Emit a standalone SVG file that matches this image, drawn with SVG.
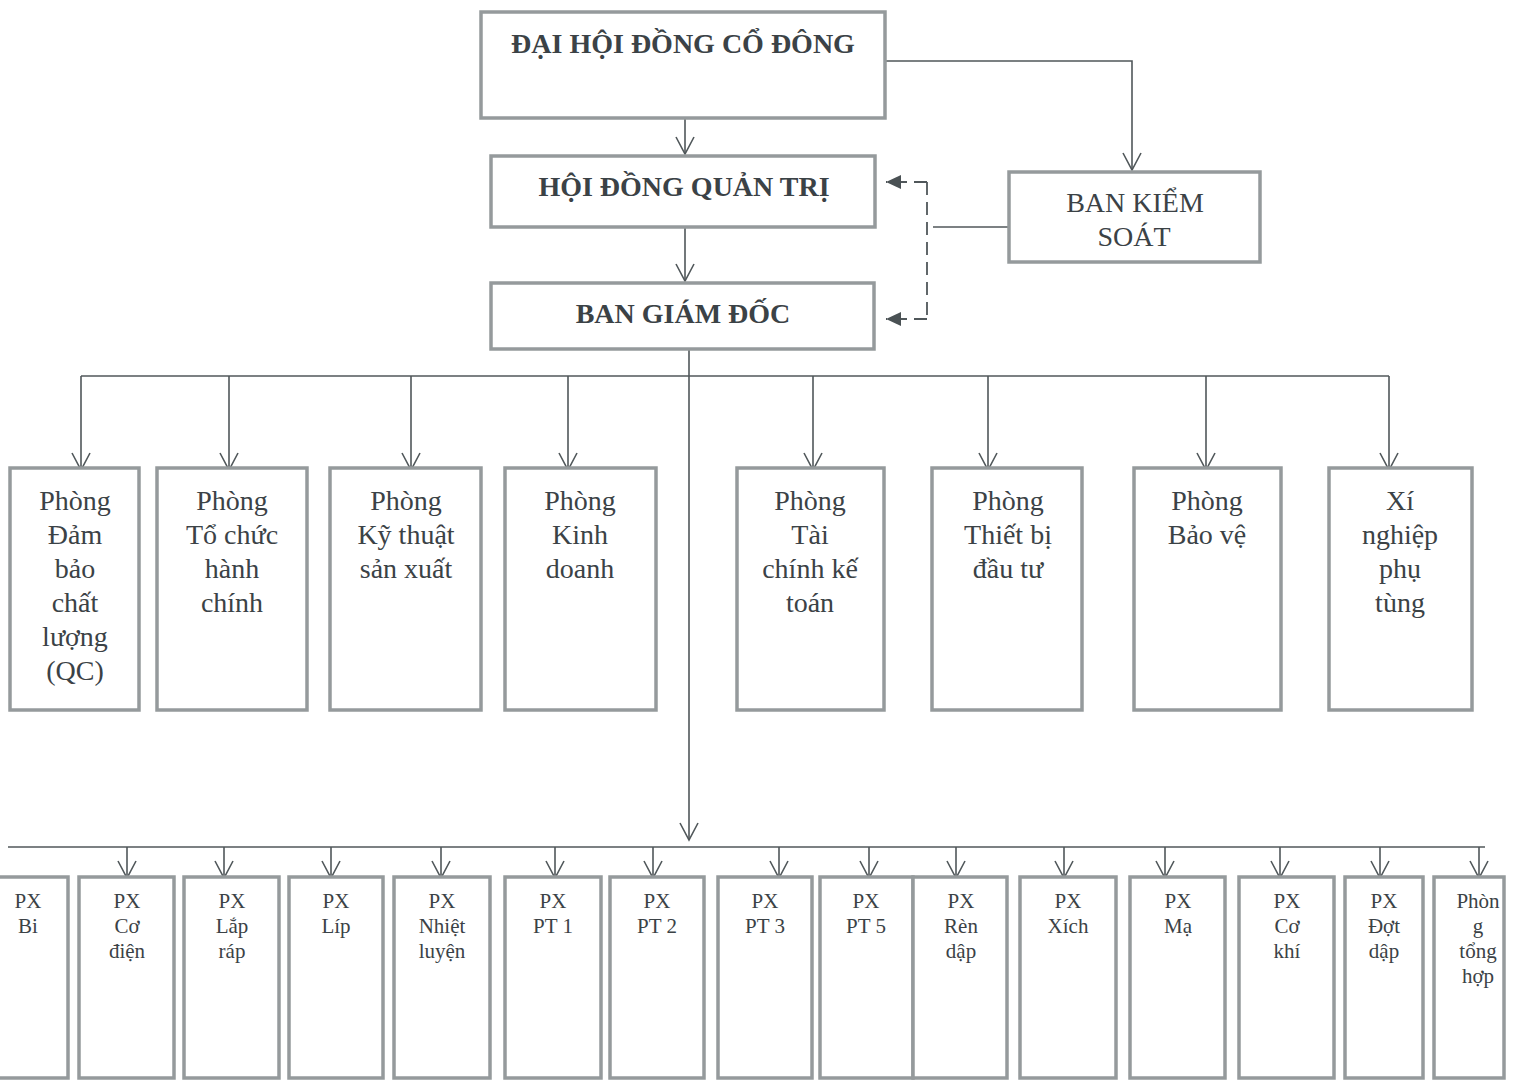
<svg xmlns="http://www.w3.org/2000/svg" width="1513" height="1081" viewBox="0 0 1513 1081">
<style>
.box{fill:#ffffff;stroke:#959a9c;stroke-width:3.5}
.ln{fill:none;stroke:#50575a;stroke-width:1.6}
.dash{fill:none;stroke:#50575a;stroke-width:1.8;stroke-dasharray:13,7}
.tb{font-family:"Liberation Serif","Times New Roman",serif;font-weight:bold;font-size:28px;fill:#3b4246;text-anchor:middle}
.tr{font-family:"Liberation Serif","Times New Roman",serif;font-size:28px;fill:#3b4246;text-anchor:middle}
.ts{font-family:"Liberation Serif","Times New Roman",serif;font-size:21px;fill:#3b4246;text-anchor:middle}
</style>
<defs>
<marker id="v" viewBox="0 0 20 20" refX="18" refY="10" markerWidth="20" markerHeight="20" markerUnits="userSpaceOnUse" orient="auto">
<path d="M1,1 L18,10 L1,19" fill="none" stroke="#50575a" stroke-width="1.6"/>
</marker>
<marker id="f" viewBox="0 0 16 14" refX="15" refY="7" markerWidth="16" markerHeight="14" markerUnits="userSpaceOnUse" orient="auto">
<path d="M0,0 L15,7 L0,14 z" fill="#4a5154"/>
</marker>
</defs>
<rect width="1513" height="1081" fill="#ffffff"/>

<g id="connectors">
<path class="ln" d="M685,118 V154" marker-end="url(#v)"/>
<path class="ln" d="M885,61 H1132 V170" marker-end="url(#v)"/>
<path class="ln" d="M685,227 V281" marker-end="url(#v)"/>
<path class="ln" d="M1009,227 H933"/>
<path class="dash" d="M927,182 V320"/>
<path class="dash" d="M927,182 H886" marker-end="url(#f)"/>
<path class="dash" d="M927,319 H886" marker-end="url(#f)"/>
<path class="ln" d="M689,349 V840" marker-end="url(#v)"/>
<path class="ln" d="M81,376 H1389"/>
<path class="ln" d="M81,376 V470" marker-end="url(#v)"/>
<path class="ln" d="M229,376 V470" marker-end="url(#v)"/>
<path class="ln" d="M411,376 V470" marker-end="url(#v)"/>
<path class="ln" d="M568,376 V470" marker-end="url(#v)"/>
<path class="ln" d="M813,376 V470" marker-end="url(#v)"/>
<path class="ln" d="M988,376 V470" marker-end="url(#v)"/>
<path class="ln" d="M1206,376 V470" marker-end="url(#v)"/>
<path class="ln" d="M1389,376 V470" marker-end="url(#v)"/>
<path class="ln" d="M8,847 H1485"/>
<path class="ln" d="M127,847 V878" marker-end="url(#v)"/>
<path class="ln" d="M224,847 V878" marker-end="url(#v)"/>
<path class="ln" d="M331,847 V878" marker-end="url(#v)"/>
<path class="ln" d="M441,847 V878" marker-end="url(#v)"/>
<path class="ln" d="M555,847 V878" marker-end="url(#v)"/>
<path class="ln" d="M653,847 V878" marker-end="url(#v)"/>
<path class="ln" d="M779,847 V878" marker-end="url(#v)"/>
<path class="ln" d="M869,847 V878" marker-end="url(#v)"/>
<path class="ln" d="M956,847 V878" marker-end="url(#v)"/>
<path class="ln" d="M1064,847 V878" marker-end="url(#v)"/>
<path class="ln" d="M1165,847 V878" marker-end="url(#v)"/>
<path class="ln" d="M1280,847 V878" marker-end="url(#v)"/>
<path class="ln" d="M1380,847 V878" marker-end="url(#v)"/>
<path class="ln" d="M1479,847 V878" marker-end="url(#v)"/>
</g>

<g id="n-dhdcd"><rect class="box" x="481" y="12" width="404" height="106"/><text class="tb" x="683" y="53">ĐẠI HỘI ĐỒNG CỔ ĐÔNG</text></g>
<g id="n-hdqt"><rect class="box" x="491" y="156" width="384" height="71"/><text class="tb" x="684" y="196">HỘI ĐỒNG QUẢN TRỊ</text></g>
<g id="n-bgd"><rect class="box" x="491" y="283" width="383" height="66"/><text class="tb" x="683" y="323">BAN GIÁM ĐỐC</text></g>
<g id="n-bks"><rect class="box" x="1009" y="172" width="251" height="90"/><text class="tr" x="1135" y="212">BAN KIỂM</text><text class="tr" x="1134" y="246">SOÁT</text></g>

<g id="n-qc"><rect class="box" x="10" y="468" width="129" height="242"/>
<text class="tr" x="75" y="510">Phòng</text><text class="tr" x="75" y="544">Đảm</text><text class="tr" x="75" y="578">bảo</text><text class="tr" x="75" y="612">chất</text><text class="tr" x="75" y="646">lượng</text><text class="tr" x="75" y="680">(QC)</text></g>
<g id="n-tchc"><rect class="box" x="157" y="468" width="150" height="242"/>
<text class="tr" x="232" y="510">Phòng</text><text class="tr" x="232" y="544">Tổ chức</text><text class="tr" x="232" y="578">hành</text><text class="tr" x="232" y="612">chính</text></g>
<g id="n-ktsx"><rect class="box" x="330" y="468" width="151" height="242"/>
<text class="tr" x="406" y="510">Phòng</text><text class="tr" x="406" y="544">Kỹ thuật</text><text class="tr" x="406" y="578">sản xuất</text></g>
<g id="n-kd"><rect class="box" x="505" y="468" width="151" height="242"/>
<text class="tr" x="580" y="510">Phòng</text><text class="tr" x="580" y="544">Kinh</text><text class="tr" x="580" y="578">doanh</text></g>
<g id="n-tckt"><rect class="box" x="737" y="468" width="147" height="242"/>
<text class="tr" x="810" y="510">Phòng</text><text class="tr" x="810" y="544">Tài</text><text class="tr" x="810" y="578">chính kế</text><text class="tr" x="810" y="612">toán</text></g>
<g id="n-tbdt"><rect class="box" x="932" y="468" width="150" height="242"/>
<text class="tr" x="1008" y="510">Phòng</text><text class="tr" x="1008" y="544">Thiết bị</text><text class="tr" x="1008" y="578">đầu tư</text></g>
<g id="n-bv"><rect class="box" x="1134" y="468" width="147" height="242"/>
<text class="tr" x="1207" y="510">Phòng</text><text class="tr" x="1207" y="544">Bảo vệ</text></g>
<g id="n-xnpt"><rect class="box" x="1329" y="468" width="143" height="242"/>
<text class="tr" x="1400" y="510">Xí</text><text class="tr" x="1400" y="544">nghiệp</text><text class="tr" x="1400" y="578">phụ</text><text class="tr" x="1400" y="612">tùng</text></g>

<g id="n-bi"><rect class="box" x="-6" y="877" width="74" height="201"/><text class="ts" x="28" y="908">PX</text><text class="ts" x="28" y="933">Bi</text></g>
<g id="n-codien"><rect class="box" x="79" y="877" width="95" height="201"/><text class="ts" x="127" y="908">PX</text><text class="ts" x="127" y="933">Cơ</text><text class="ts" x="127" y="958">điện</text></g>
<g id="n-laprap"><rect class="box" x="184" y="877" width="95" height="201"/><text class="ts" x="232" y="908">PX</text><text class="ts" x="232" y="933">Lắp</text><text class="ts" x="232" y="958">ráp</text></g>
<g id="n-lip"><rect class="box" x="289" y="877" width="94" height="201"/><text class="ts" x="336" y="908">PX</text><text class="ts" x="336" y="933">Líp</text></g>
<g id="n-nhietluyen"><rect class="box" x="394" y="877" width="96" height="201"/><text class="ts" x="442" y="908">PX</text><text class="ts" x="442" y="933">Nhiệt</text><text class="ts" x="442" y="958">luyện</text></g>
<g id="n-pt1"><rect class="box" x="505" y="877" width="96" height="201"/><text class="ts" x="553" y="908">PX</text><text class="ts" x="553" y="933">PT 1</text></g>
<g id="n-pt2"><rect class="box" x="610" y="877" width="94" height="201"/><text class="ts" x="657" y="908">PX</text><text class="ts" x="657" y="933">PT 2</text></g>
<g id="n-pt3"><rect class="box" x="718" y="877" width="94" height="201"/><text class="ts" x="765" y="908">PX</text><text class="ts" x="765" y="933">PT 3</text></g>
<g id="n-pt5"><rect class="box" x="820" y="877" width="93" height="201"/><text class="ts" x="866" y="908">PX</text><text class="ts" x="866" y="933">PT 5</text></g>
<g id="n-rendap"><rect class="box" x="913" y="877" width="94" height="201"/><text class="ts" x="961" y="908">PX</text><text class="ts" x="961" y="933">Rèn</text><text class="ts" x="961" y="958">dập</text></g>
<g id="n-xich"><rect class="box" x="1020" y="877" width="96" height="201"/><text class="ts" x="1068" y="908">PX</text><text class="ts" x="1068" y="933">Xích</text></g>
<g id="n-ma"><rect class="box" x="1130" y="877" width="95" height="201"/><text class="ts" x="1178" y="908">PX</text><text class="ts" x="1178" y="933">Mạ</text></g>
<g id="n-cokhi"><rect class="box" x="1239" y="877" width="95" height="201"/><text class="ts" x="1287" y="908">PX</text><text class="ts" x="1287" y="933">Cơ</text><text class="ts" x="1287" y="958">khí</text></g>
<g id="n-dotdap"><rect class="box" x="1345" y="877" width="78" height="201"/><text class="ts" x="1384" y="908">PX</text><text class="ts" x="1384" y="933">Đợt</text><text class="ts" x="1384" y="958">dập</text></g>
<g id="n-pth"><rect class="box" x="1434" y="877" width="70" height="201"/><text class="ts" x="1478" y="908">Phòn</text><text class="ts" x="1478" y="933">g</text><text class="ts" x="1478" y="958">tổng</text><text class="ts" x="1478" y="983">hợp</text></g>
</svg>
